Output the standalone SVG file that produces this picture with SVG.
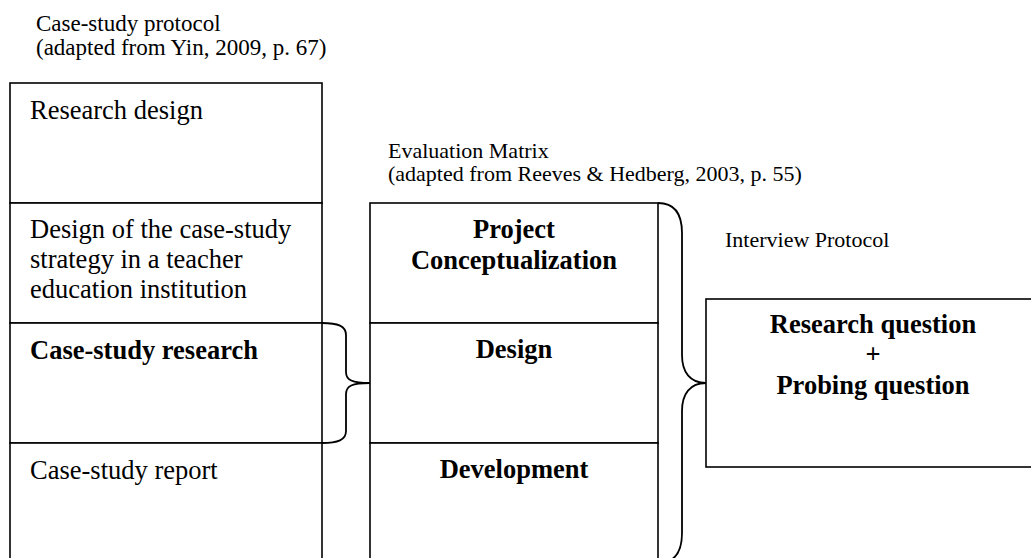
<svg xmlns="http://www.w3.org/2000/svg" width="1031" height="558" viewBox="0 0 1031 558">
<style>
.box{fill:#fff;stroke:#000;stroke-width:1.6}
.t{font-family:"Liberation Serif","Times New Roman",serif;font-size:26.5px;fill:#000}
.b{font-weight:bold;text-anchor:middle}
.h{font-family:"Liberation Serif","Times New Roman",serif;font-size:23px;fill:#000}
.h2{font-family:"Liberation Serif","Times New Roman",serif;font-size:22px;fill:#000}
.br{fill:none;stroke:#000;stroke-width:1.8}
</style>
<rect width="1031" height="558" fill="#fff"/>
<g id="header-case-study">
<text class="h" x="36" y="31">Case-study protocol</text>
<text class="h" x="36" y="55">(adapted from Yin, 2009, p. 67)</text>
</g>
<g id="header-evaluation">
<text class="h2" x="388" y="158">Evaluation Matrix</text>
<text class="h2" x="388" y="181">(adapted from Reeves &amp; Hedberg, 2003, p. 55)</text>
</g>
<g id="header-interview">
<text class="h2" x="725" y="247">Interview Protocol</text>
</g>
<g id="research-design">
<rect class="box" x="10" y="83" width="312" height="120"/>
<text class="t" x="30" y="119">Research design</text>
</g>
<g id="design-strategy">
<rect class="box" x="10" y="203" width="312" height="120"/>
<text class="t" x="30" y="238">Design of the case-study</text>
<text class="t" x="30" y="268">strategy in a teacher</text>
<text class="t" x="30" y="298">education institution</text>
</g>
<g id="case-study-research">
<rect class="box" x="10" y="323" width="312" height="120"/>
<text class="t" x="30" y="359" font-weight="bold">Case-study research</text>
</g>
<g id="case-study-report">
<rect class="box" x="10" y="443" width="312" height="130"/>
<text class="t" x="30" y="479">Case-study report</text>
</g>
<g id="project-conceptualization">
<rect class="box" x="370" y="203" width="288" height="120"/>
<text class="t b" x="514" y="238">Project</text>
<text class="t b" x="514" y="269">Conceptualization</text>
</g>
<g id="design">
<rect class="box" x="370" y="323" width="288" height="120"/>
<text class="t b" x="514" y="358">Design</text>
</g>
<g id="development">
<rect class="box" x="370" y="443" width="288" height="130"/>
<text class="t b" x="514" y="478">Development</text>
</g>
<g id="interview-questions">
<rect class="box" x="706" y="299" width="340" height="168"/>
<text class="t b" x="873" y="333">Research question</text>
<text class="t b" x="873" y="363">+</text>
<text class="t b" x="873" y="394">Probing question</text>
</g>
<g id="connectors">
<path class="br" d="M322,323 C338,323 346,326 346,335 L346,372 C346,380 352,383 370,383 C352,383 346,386 346,394 L346,431 C346,440 338,443 322,443"/>
<path class="br" d="M658,203 C675,203 682,215 682,233 L682,355 C682,372 690,383 706,383 C690,383 682,394 682,411 L682,533 C682,551 675,563 658,563"/>
</g>
</svg>
